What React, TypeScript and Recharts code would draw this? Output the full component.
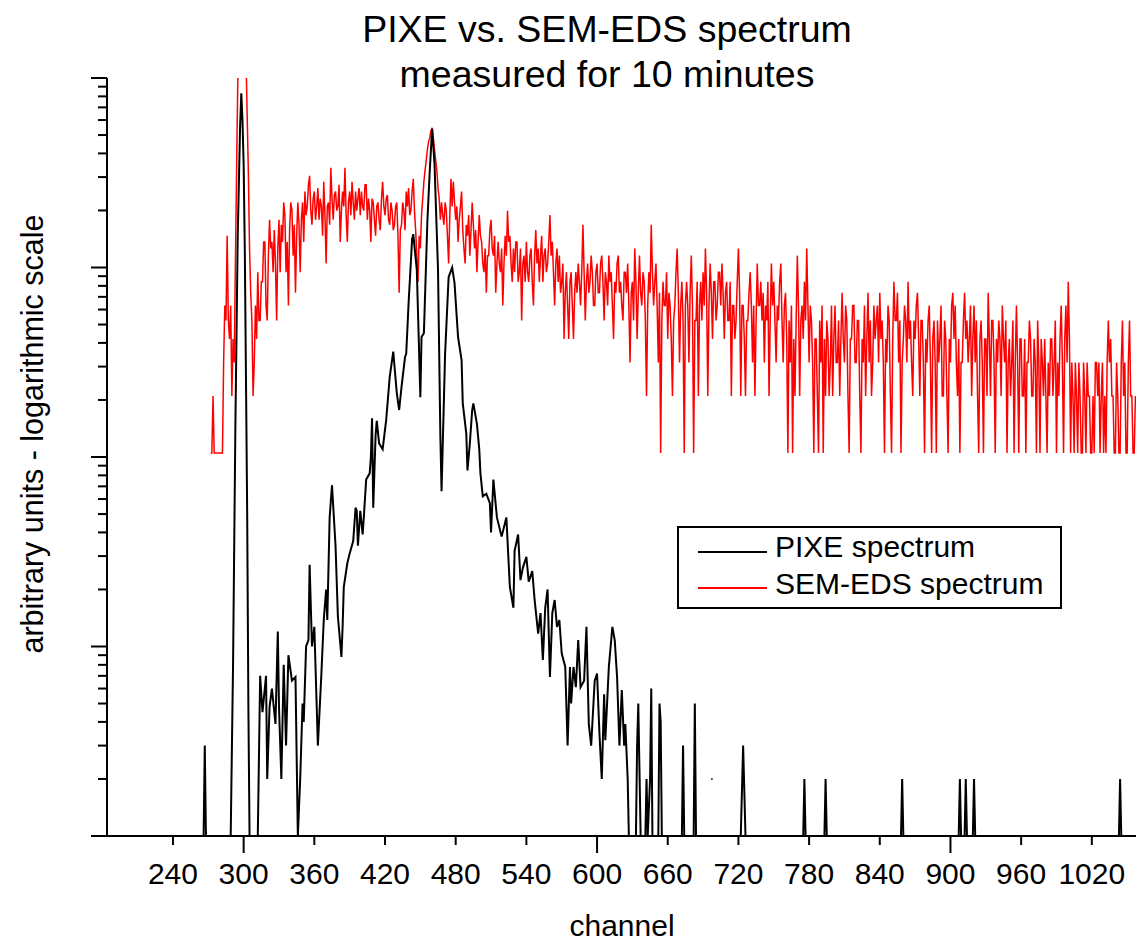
import { LineChart, Line, XAxis, YAxis } from 'recharts';

const FONT = '"Liberation Sans", Arial, Helvetica, sans-serif';

// x axis tick labels (channel)
const X_TICKS = [240, 300, 360, 420, 480, 540, 600, 660, 720, 780, 840, 900, 960, 1020];
const X_LONG_TICKS = [300, 600, 900];
// y axis decades (log scale, unlabeled)
const DECADES = [1, 10, 100, 1000, 10000];

// PIXE spectrum: [channel, counts]; null = empty channel (gap in the log plot)
const PIXE_COUNTS: [number, number | null][] = [
  [184, 1], [266, 1], [267, 3], [268, 1], [289, 1], [291, 8], [293, 150], [295, 1500],
  [297, 5600], [298, 8300], [299, 6000], [300, 3500], [301, 1200], [302, 250], [303, 50],
  [304, 5], [305, 1], [312, 1], [314, 7], [316, 4.5], [319, 7], [320, 2], [322, 4.8],
  [324, 6], [327, 3.9], [329, 12], [330, 4.8], [332, 2], [334, 8], [336, 3], [338, 9],
  [341, 6.6], [344, 6.9], [346, 1], [348, 2], [350, 5], [351, 4], [353, 10], [355, 10.8],
  [356, 27], [358, 10], [360, 12.7], [363, 3], [366, 7.2], [368, 13.8], [370, 20],
  [371, 13.8], [373, 48], [375, 71], [378, 34], [380, 14.4], [383, 8.8], [384, 12.7],
  [385, 20.6], [388, 27.5], [390, 31], [393, 36], [395, 54], [396, 52], [397, 34],
  [399, 52], [401, 39], [402, 48], [404, 76], [407, 82], [408, 100], [409, 160], [410, 54],
  [412, 130], [413, 155], [415, 118], [418, 110], [421, 157], [424, 265], [427, 360],
  [430, 217], [432, 177], [434, 234], [437, 337], [438, 350], [440, 646], [443, 1410],
  [444, 1500], [447, 970], [450, 207], [451, 430], [453, 450], [456, 1780], [458, 3250],
  [460, 5400], [462, 3550], [465, 970], [467, 127], [468, 66], [471, 350], [474, 890],
  [477, 1000], [479, 830], [482, 430], [485, 325], [486, 192], [489, 133], [490, 85],
  [492, 118], [494, 177], [495, 192], [498, 150], [500, 110], [501, 82], [503, 62],
  [506, 64], [509, 57], [510, 40], [512, 76], [515, 48], [519, 38], [523, 48], [526, 20.6],
  [529, 16], [530, 32], [533, 39], [535, 22.4], [537, 26], [540, 29.7], [542, 22], [545, 25],
  [547, 17.6], [550, 11.7], [552, 15], [554, 8.5], [556, 16], [558, 20], [560, 6.9],
  [562, 15], [564, 17.6], [566, 12.7], [568, 13.8], [570, 9.2], [573, 7.8], [575, 3],
  [577, 7.8], [578, 5], [580, 7.8], [582, 6.1], [584, 10.8], [586, 6.1], [589, 6.6],
  [591, 12.7], [593, 3.9], [595, 3], [598, 6.6], [600, 7.2], [602, 3.5], [604, 2],
  [606, 5.6], [607, 3.2], [610, 7.8], [613, 12.7], [615, 10.8], [617, 6.9], [619, 3],
  [621, 5.9], [623, 3], [624, 3.9], [626, 2], [627, 1], [633, 1], [634, 3], [635, 5],
  [637, 1], [641, 1], [642, 2], [643, 1], [645, 2], [646, 6], [647, 1], [652, 1], [653, 5],
  [654, 4], [655, 1], [672, 1], [673, 3], [674, 1], [682, 1], [683, 5], [684, 1],
  [696, null], [697, 2], [698, 2], [699, null], [722, 1], [724, 3], [726, 1], [775, 1],
  [776, 2], [777, 1], [793, 1], [794, 2], [795, 1], [858, 1], [859, 2], [860, 1], [907, 1],
  [908, 2], [909, 1], [912, 1], [913, 2], [914, 1], [919, 1], [920, 2], [921, 1],
  [1043, 1], [1044, 2], [1045, 1], [1058, 1],
];

// SEM-EDS spectrum: counts per channel starting at channel 272
const EDS_FIRST_CHANNEL = 272;
const EDS_COUNTS = [
  // 272-311
  1, 1, 2, 1, 1, 1, 1, 1, 1, 1, 1, 3, 6, 5, 14, 5, 4, 6, 2, 4,
  3, 10, 31, 90, 150, 200, 200, 200, 200, 180, 120, 60, 30, 12, 7, 5, 2, 3, 6, 4,
  // 312-351
  9, 5, 5, 8, 8, 13, 13, 6, 5, 11, 17, 12, 13, 9, 15, 10, 5, 12, 17, 9,
  16, 13, 21, 18, 9, 13, 6, 15, 21, 19, 11, 16, 7, 14, 21, 16, 9, 17, 21, 13,
  // 352-391
  24, 18, 20, 26, 29, 19, 16, 22, 24, 17, 20, 25, 17, 22, 20, 14, 27, 18, 10, 20,
  21, 16, 32, 22, 17, 23, 24, 19, 20, 26, 13, 19, 24, 20, 32, 18, 13, 21, 24, 18,
  // 392-431
  27, 21, 17, 24, 19, 22, 25, 18, 24, 20, 19, 26, 26, 17, 22, 19, 13, 22, 21, 17,
  14, 20, 21, 17, 15, 22, 27, 20, 18, 22, 23, 17, 16, 21, 19, 15, 16, 20, 21, 14,
  // 432-471
  7, 15, 16, 21, 19, 15, 24, 20, 25, 18, 19, 24, 28, 19, 15, 11, 8, 14, 12, 18,
  22, 27, 31, 35, 40, 44, 46, 50, 52, 46, 40, 35, 31, 25, 22, 17, 21, 18, 16, 21,
  // 472-511
  19, 14, 10, 18, 28, 20, 27, 21, 17, 20, 13, 17, 20, 24, 15, 12, 10, 16, 14, 18,
  11, 15, 21, 16, 12, 15, 9, 13, 18, 14, 13, 10, 9, 12, 7, 11, 11, 15, 17, 12,
  // 512-551
  11, 14, 7, 10, 13, 10, 9, 12, 6, 10, 14, 11, 19, 13, 14, 10, 8, 12, 9, 13,
  13, 8, 9, 12, 5, 10, 11, 8, 13, 9, 8, 11, 12, 8, 6, 11, 15, 10, 12, 8,
  // 552-591
  11, 14, 8, 11, 12, 9, 10, 13, 18, 11, 13, 9, 6, 10, 12, 8, 11, 7, 8, 10,
  4, 7, 9, 6, 4, 8, 9, 6, 4, 7, 9, 7, 10, 8, 6, 9, 16, 9, 5, 8,
  // 592-631
  10, 7, 8, 11, 9, 6, 6, 9, 10, 7, 7, 10, 11, 8, 5, 9, 8, 6, 11, 8,
  9, 6, 4, 8, 7, 10, 11, 7, 8, 6, 5, 9, 9, 7, 10, 6, 3, 7, 8, 5,
  // 632-671
  12, 8, 4, 7, 11, 7, 6, 9, 8, 5, 2, 6, 9, 7, 16, 9, 6, 8, 10, 6,
  3, 7, 1, 5, 8, 6, 6, 9, 4, 7, 6, 4, 2, 5, 6, 9, 12, 7, 3, 6,
  // 672-711
  8, 5, 1, 6, 8, 6, 3, 7, 11, 6, 1, 5, 5, 8, 2, 6, 8, 5, 9, 6,
  12, 7, 2, 6, 10, 7, 4, 8, 8, 5, 6, 9, 9, 6, 10, 7, 4, 7, 8, 5,
  // 712-751
  5, 8, 2, 6, 6, 4, 5, 8, 12, 7, 2, 6, 6, 4, 2, 5, 5, 7, 9, 6,
  3, 6, 2, 5, 10, 6, 6, 8, 5, 7, 3, 6, 5, 8, 2, 5, 10, 6, 8, 5,
  // 752-791
  3, 6, 5, 8, 10, 5, 3, 6, 7, 4, 1, 5, 3, 6, 1, 4, 2, 5, 11, 6,
  2, 5, 6, 4, 8, 5, 12, 6, 3, 6, 5, 3, 1, 4, 4, 2, 1, 5, 3, 6,
  // 792-831
  1, 4, 2, 5, 4, 2, 3, 6, 2, 4, 6, 3, 3, 5, 2, 4, 7, 4, 3, 6,
  5, 2, 1, 4, 4, 6, 6, 3, 3, 5, 5, 2, 1, 4, 3, 6, 2, 4, 7, 3,
  // 832-871
  5, 2, 3, 6, 4, 5, 6, 3, 7, 4, 5, 3, 1, 4, 3, 6, 5, 2, 1, 4,
  8, 5, 5, 7, 3, 5, 1, 3, 4, 6, 5, 3, 8, 4, 5, 3, 2, 5, 4, 6,
  // 872-911
  7, 4, 2, 5, 5, 3, 1, 4, 3, 5, 6, 3, 1, 4, 5, 3, 1, 5, 3, 4,
  6, 2, 2, 5, 4, 2, 1, 4, 3, 6, 7, 4, 6, 3, 2, 4, 1, 3, 3, 5,
  // 912-951
  7, 4, 5, 3, 4, 6, 2, 4, 6, 3, 5, 2, 1, 4, 5, 3, 1, 4, 4, 2,
  7, 4, 2, 5, 5, 3, 1, 4, 3, 5, 4, 2, 6, 4, 3, 5, 1, 3, 4, 2,
  // 952-991
  3, 5, 1, 3, 6, 3, 1, 4, 4, 2, 2, 4, 1, 3, 3, 5, 4, 2, 2, 4,
  3, 1, 5, 3, 1, 4, 3, 2, 4, 2, 1, 3, 2, 4, 4, 2, 3, 5, 1, 3,
  // 992-1031
  2, 4, 6, 3, 1, 4, 6, 3, 8, 4, 1, 3, 2, 1, 3, 2, 1, 3, 2, 1,
  1, 3, 2, 1, 3, 2, 2, 1, 1, 2, 1, 3, 3, 2, 3, 1, 2, 3, 1, 2,
  // 1032-1057
  1, 3, 5, 3, 4, 2, 2, 1, 1, 3, 2, 1, 1, 3, 5, 2, 3, 1, 1, 3,
  5, 2, 2, 1, 1, 2,
];
// the EDS curve is shifted up by this factor so both fit the same log axis
const EDS_SCALE = 105;

const pixeData = PIXE_COUNTS.map(([ch, v]) => ({ ch, v }));
const edsData = EDS_COUNTS.map((c, i) => ({ ch: EDS_FIRST_CHANNEL + i, v: c * EDS_SCALE }));

const yTicks = DECADES.flatMap((d, i) =>
  i === DECADES.length - 1 ? [d] : [1, 2, 3, 4, 5, 6, 7, 8, 9].map((m) => m * d),
);

function XTick(props: any) {
  const { x, y, payload } = props;
  const long = X_LONG_TICKS.includes(payload.value);
  return (
    <g>
      <line x1={x} x2={x} y1={y} y2={y + (long ? 17 : 9)} stroke="#000" strokeWidth={2} />
      <text x={x} y={y + 48} textAnchor="middle" fontSize={30} fontFamily={FONT} fill="#000">
        {payload.value}
      </text>
    </g>
  );
}

function YTick(props: any) {
  const { x, y, payload } = props;
  const major = DECADES.includes(payload.value);
  return <line x1={x - (major ? 16 : 9)} x2={x} y1={y} y2={y} stroke="#000" strokeWidth={2} />;
}

export default function App() {
  return (
    <div
      style={{
        position: 'absolute',
        left: 0,
        top: 0,
        width: 1136,
        height: 943,
        background: '#fff',
        fontFamily: FONT,
        color: '#000',
      }}
    >
      <div
        style={{
          position: 'absolute',
          left: 207,
          top: 7,
          width: 800,
          textAlign: 'center',
          fontSize: 37.5,
          lineHeight: '45px',
        }}
      >
        PIXE vs. SEM-EDS spectrum
        <br />
        measured for 10 minutes
      </div>

      <LineChart width={1136} height={943} margin={{ top: 78, right: 0, bottom: 0, left: 0 }}>
        <XAxis
          dataKey="ch"
          type="number"
          domain={[184, 1057.5]}
          allowDataOverflow
          ticks={X_TICKS}
          interval={0}
          height={107}
          tickSize={0}
          tickMargin={0}
          tickLine={false}
          axisLine={{ stroke: '#000', strokeWidth: 2 }}
          tick={<XTick />}
        />
        <YAxis
          type="number"
          scale="log"
          domain={[1, 10000]}
          allowDataOverflow
          ticks={yTicks}
          interval={0}
          width={107}
          tickSize={0}
          tickMargin={0}
          tickLine={false}
          axisLine={{ stroke: '#000', strokeWidth: 2 }}
          tick={<YTick />}
        />
        <Line
          data={edsData}
          dataKey="v"
          type="linear"
          stroke="#ff0000"
          strokeWidth={1.5}
          dot={false}
          isAnimationActive={false}
        />
        <Line
          data={pixeData}
          dataKey="v"
          type="linear"
          stroke="#000"
          strokeWidth={2}
          dot={false}
          isAnimationActive={false}
        />
      </LineChart>

      <div
        style={{
          position: 'absolute',
          left: 522,
          top: 912,
          width: 200,
          height: 28,
          textAlign: 'center',
          fontSize: 30,
          lineHeight: '28px',
          whiteSpace: 'nowrap',
        }}
      >
        channel
      </div>

      <div
        style={{
          position: 'absolute',
          left: 32 - 300,
          top: 434 - 20,
          width: 600,
          height: 40,
          lineHeight: '40px',
          textAlign: 'center',
          fontSize: 30.5,
          transform: 'rotate(-90deg)',
          whiteSpace: 'nowrap',
        }}
      >
        arbitrary units - logarithmic scale
      </div>

      <div
        style={{
          position: 'absolute',
          left: 677,
          top: 526,
          width: 385,
          height: 83,
          boxSizing: 'border-box',
          border: '2px solid #000',
          background: '#fff',
        }}
      >
        <svg width={381} height={79} style={{ display: 'block' }}>
          <line x1={19} x2={88} y1={24} y2={24} stroke="#000" strokeWidth={2} />
          <text x={96} y={29} fontSize={30} fontFamily={FONT} fill="#000">
            PIXE spectrum
          </text>
          <line x1={19} x2={88} y1={60} y2={60} stroke="#ff0000" strokeWidth={2} />
          <text x={96} y={66} fontSize={30} fontFamily={FONT} fill="#000">
            SEM-EDS spectrum
          </text>
        </svg>
      </div>
    </div>
  );
}
